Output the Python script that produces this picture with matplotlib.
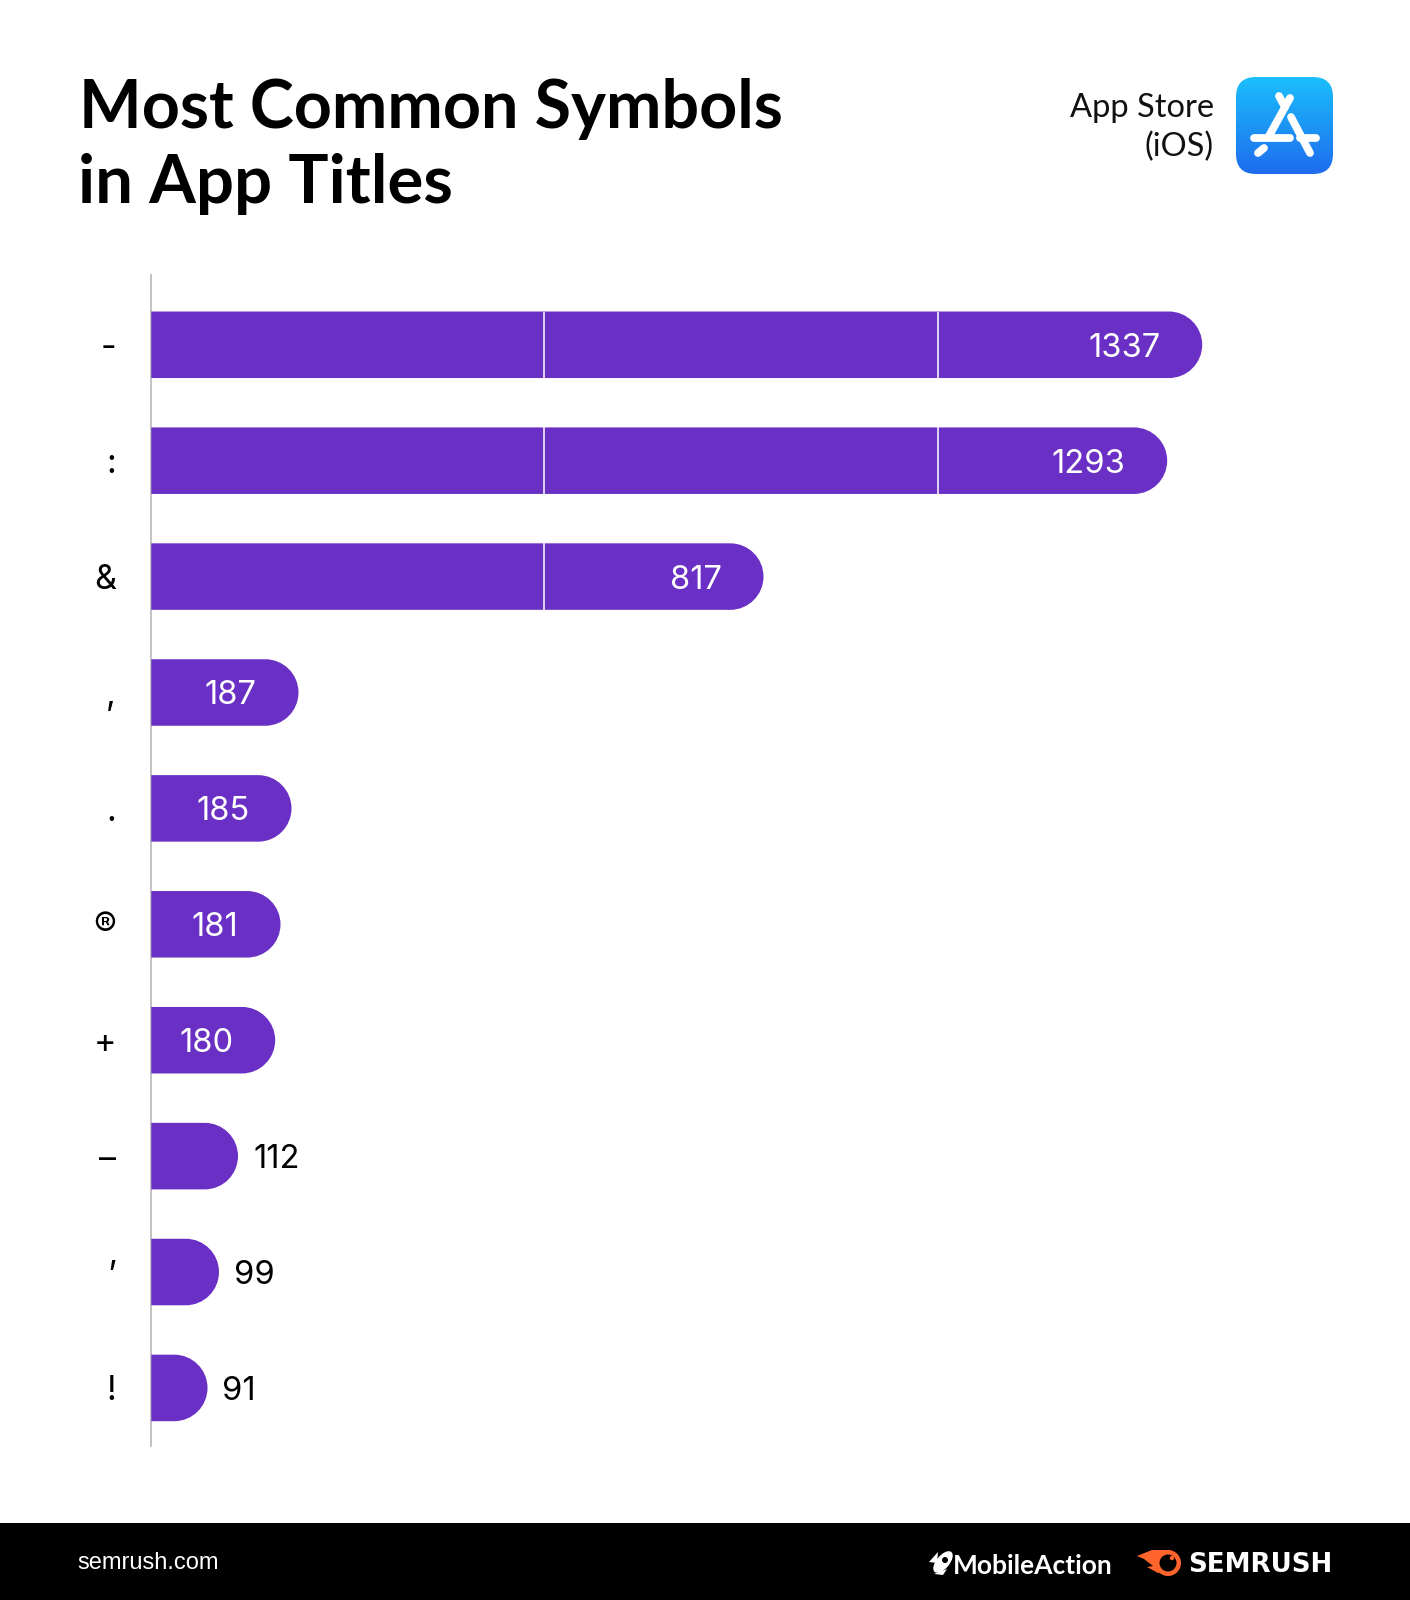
import numpy as np
import matplotlib
matplotlib.use("Agg")
import matplotlib.pyplot as plt
from matplotlib.patches import PathPatch, FancyBboxPatch, Circle, Polygon, Ellipse
from matplotlib.path import Path
from matplotlib.transforms import IdentityTransform

symbols = ["-", ":", "&", ",", ".", "®", "+", "–", "’", "!"]
counts = [1337, 1293, 817, 187, 185, 181, 180, 112, 99, 91]

# the axis of the original is not linear, so this is its scale as read off the picture
scale_values = [0, 91, 99, 112, 180, 181, 185, 187, 817, 1293, 1337, 1500]
scale_lengths = [0, 56.2, 67.7, 86.7, 123.9, 129.2, 140.2, 147.2, 612.2, 1015.9, 1050.9, 1149]
dividers = [520, 1023]

PURPLE = "#6A2FC4"
W, H = 1410, 1600


def forward(v):
    return np.interp(v, scale_values, scale_lengths)


def inverse(p):
    return np.interp(p, scale_lengths, scale_values)


def rounded_bar(ax, value, y, height):
    "Bar with a square left end and a half round right end"
    x0, y0 = ax.transData.transform((0, y + height / 2))
    x1, y1 = ax.transData.transform((value, y - height / 2))
    r = (y1 - y0) / 2
    k = 0.5523 * r
    verts = [(x0, y0), (x1 - r, y0),
             (x1 - r + k, y0), (x1, y0 + r - k), (x1, y0 + r),
             (x1, y0 + r + k), (x1 - r + k, y1), (x1 - r, y1),
             (x0, y1), (x0, y0)]
    codes = [Path.MOVETO, Path.LINETO,
             Path.CURVE4, Path.CURVE4, Path.CURVE4,
             Path.CURVE4, Path.CURVE4, Path.CURVE4,
             Path.LINETO, Path.CLOSEPOLY]
    ax.add_patch(PathPatch(Path(verts, codes), facecolor=PURPLE, edgecolor="none",
                           transform=IdentityTransform(), zorder=2))


fig = plt.figure(figsize=(W / 100, H / 100), dpi=100, facecolor="white")

# page layer in pixel coordinates for header, logos and footer
page = fig.add_axes([0, 0, 1, 1], zorder=0)
page.set_xlim(0, W)
page.set_ylim(H, 0)
page.axis("off")

page.text(79, 128, "Most Common Symbols", fontsize=47.8, fontweight="bold",
          family="Lato", color="black", va="baseline")
page.text(78, 203, "in App Titles", fontsize=48.3, fontweight="bold",
          family="Lato", color="black", va="baseline")
page.text(1214, 117, "App Store", fontsize=23.5, family="Lato", fontweight="normal",
          ha="right", va="baseline", color="#111111")
page.text(1214, 156, "(iOS)", fontsize=23.5, family="Lato", fontweight="normal",
          ha="right", va="baseline", color="#111111")

# app store icon
gradient = np.linspace(0, 1, 256).reshape(-1, 1)
cmap = matplotlib.colors.LinearSegmentedColormap.from_list("appstore", ["#1BBFFC", "#1E6CEE"])
icon = page.imshow(gradient, cmap=cmap, extent=(1236, 1333, 174, 77), aspect="auto", zorder=1)
clip = FancyBboxPatch((1236 + 20, 77 + 20), 57, 57, boxstyle="round,pad=20,rounding_size=20",
                      transform=page.transData, facecolor="none", edgecolor="none")
page.add_patch(clip)
icon.set_clip_path(clip)
page.set_xlim(0, W)
page.set_ylim(H, 0)
strokes = [
    [(1290, 98), (1269, 136)],
    [(1264, 148), (1258, 153)],
    [(1279, 96), (1285, 107)],
    [(1291, 117), (1310, 153)],
    [(1254, 137.5), (1290, 137.5)],
    [(1300, 137.5), (1316, 137.5)],
]
for (xa, ya), (xb, yb) in strokes:
    page.plot([xa, xb], [ya, yb], color="white", lw=5.6, solid_capstyle="round", zorder=2)

# footer
page.fill_between([0, W], 1523, H, color="black", lw=0, zorder=1)
page.text(77, 1569, "semrush.com", fontsize=17, family="Liberation Sans",
          color="white", va="baseline")
page.text(953, 1574, "MobileAction", fontsize=19, family="Lato", fontweight="bold",
          color="white", va="baseline")
page.text(1188, 1572, "SEMRUSH", fontsize=18.8, family="DejaVu Sans", fontweight="bold",
          color="white", va="baseline")

# rocket mark
page.add_patch(Ellipse((943, 1562), 13, 26, angle=40, facecolor="white", edgecolor="none", zorder=2))
page.add_patch(Circle((945, 1560), 3, facecolor="black", edgecolor="none", zorder=3))
page.add_patch(Polygon([(929, 1562), (938, 1552), (937, 1563)], facecolor="white", edgecolor="none", zorder=2))
page.add_patch(Polygon([(934, 1574), (943, 1575), (947, 1569)], facecolor="white", edgecolor="none", zorder=2))

# semrush flame
ORANGE = "#FF642D"
page.add_patch(Polygon([(1137, 1556), (1152, 1550), (1170, 1550), (1178, 1556), (1166, 1572),
                        (1158, 1573), (1147, 1567), (1153, 1566), (1144, 1559)],
                       facecolor=ORANGE, edgecolor="none", zorder=2))
page.add_patch(Circle((1168, 1563), 13, facecolor=ORANGE, edgecolor="none", zorder=2))
page.add_patch(Circle((1168, 1563), 8.5, facecolor="black", edgecolor="none", zorder=3))
page.add_patch(Circle((1172, 1558), 2.2, facecolor=ORANGE, edgecolor="none", zorder=4))

# chart
left, top, bottom = 151.3, 275, 1446
ax = fig.add_axes([left / W, 1 - bottom / H, 1149 / W, (bottom - top) / H], zorder=1)
ax.patch.set_alpha(0)
ax.set_xscale("function", functions=(forward, inverse))
ax.set_xlim(0, 1500)
ys = np.arange(len(symbols))
ax.set_ylim(9.501, -0.602)
ax.set_yticks(ys)
ax.set_yticklabels(symbols, fontsize=24.5, family="Inter", color="black", ha="right")
ax.set_xticks([])
ax.xaxis.set_minor_locator(matplotlib.ticker.NullLocator())
ax.tick_params(axis="y", length=0, pad=25.5)
for name in ["top", "right", "bottom"]:
    ax.spines[name].set_visible(False)
ax.spines["left"].set_color("#BDBDBD")
ax.spines["left"].set_linewidth(1.3)
ax.spines["left"].set_zorder(0)

fig.canvas.draw()
bar_height = 66.5 / 115.88
for y, value in zip(ys, counts):
    rounded_bar(ax, value, y, bar_height)
    for d in dividers:
        if value > d:
            ax.vlines(d, y - bar_height / 2, y + bar_height / 2, color="white", lw=1.1, zorder=3)
    if value > 112:
        ax.annotate(str(value), (value, y), xytext=(-30.2, 0), textcoords="offset points",
                    ha="right", va="center_baseline", fontsize=23.5, family="Inter", color="white", zorder=4)
    else:
        ax.annotate(str(value), (value, y), xytext=(10.8, 0), textcoords="offset points",
                    ha="left", va="center_baseline", fontsize=23.5, family="Inter", color="black", zorder=4)

fig.savefig("out.png", dpi=100, facecolor="white")
